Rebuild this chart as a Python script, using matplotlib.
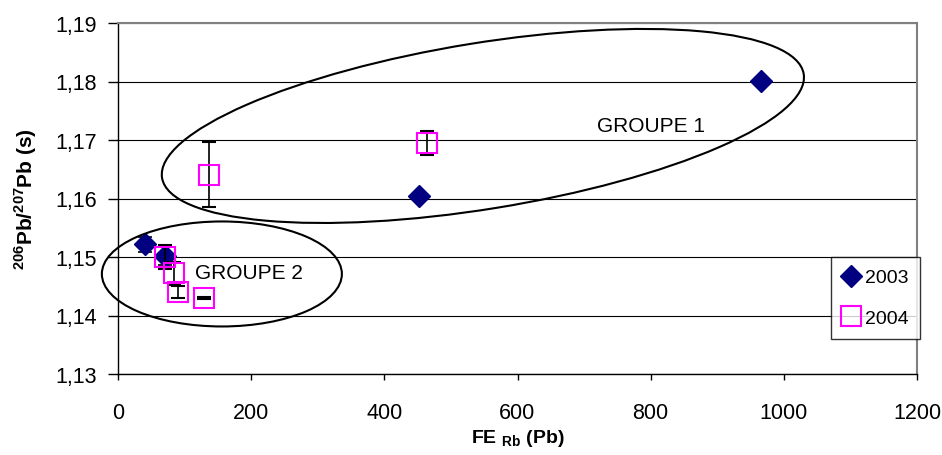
import matplotlib
matplotlib.use("Agg")
import matplotlib.pyplot as plt
import matplotlib.ticker as mticker
from matplotlib.patches import Ellipse
from matplotlib.lines import Line2D

plt.rcParams["font.family"] = ["Liberation Sans", "DejaVu Sans"]
plt.rcParams["mathtext.fontset"] = "custom"
plt.rcParams["mathtext.rm"] = "Liberation Sans"
plt.rcParams["mathtext.bf"] = "Liberation Sans:bold"

# ---------------------------------------------------------------------------
# Data
# ---------------------------------------------------------------------------
fe_2003 = [40, 70, 452, 966]
ratio_2003 = [1.1522, 1.1502, 1.1604, 1.1801]
err_2003 = [0.0013, 0.0015, 0.0005, 0.0003]

fe_2004 = [70, 84, 90, 129, 136, 464]
ratio_2004 = [1.1500, 1.1472, 1.1440, 1.1430, 1.1641, 1.1695]
err_2004 = [0.0020, 0.0020, 0.0010, 0.0001, 0.0056, 0.0020]

y_ticks = [1.13, 1.14, 1.15, 1.16, 1.17, 1.18, 1.19]
x_ticks = [0, 200, 400, 600, 800, 1000, 1200]

NAVY = "#000080"
MAGENTA = "#FF00FF"

fig = plt.figure(figsize=(9.42, 4.56), dpi=100)
ax = fig.add_axes([118 / 942, 81 / 456, 799 / 942, 351 / 456])

ax.errorbar(fe_2003, ratio_2003, yerr=err_2003, fmt="D", ms=11, color=NAVY,
            mec=NAVY, ecolor="black", elinewidth=1.2, capsize=5, capthick=1.2,
            zorder=3)
ax.errorbar(fe_2004, ratio_2004, yerr=err_2004, fmt="s", ms=14, mfc="none",
            mec=MAGENTA, mew=1.5, ecolor="black", elinewidth=1.2, capsize=5,
            capthick=1.2, zorder=4)

ax.set_xlim(0, 1200)
ax.set_ylim(1.13, 1.19)
ax.set_xticks(x_ticks)
ax.set_yticks(y_ticks)
ax.yaxis.set_major_formatter(mticker.FuncFormatter(lambda v, _: f"{v:.2f}".replace(".", ",")))
ax.grid(axis="y", color="black", linewidth=0.8, zorder=0)
ax.set_axisbelow(True)

for side in ("top", "right"):
    ax.spines[side].set_color("#808080")
    ax.spines[side].set_linewidth(1.5)
for side in ("left", "bottom"):
    ax.spines[side].set_color("black")
    ax.spines[side].set_linewidth(1.0)

ax.tick_params(axis="y", direction="out", length=7, width=1, labelsize=15.5, pad=8)
ax.tick_params(axis="x", direction="out", length=4, width=1, labelsize=15.5, pad=16)

ax.set_ylabel(r"$^{\mathbf{206}}$Pb/$^{\mathbf{207}}$Pb (s)", fontsize=15,
              fontweight="bold", labelpad=12)
ax.set_xlabel(r"FE $_{\mathbf{Rb}}$ (Pb)", fontsize=14, fontweight="bold", labelpad=3)

# group outlines (hand-drawn ellipses in the original)
def _to_inches(x, y):
    px, py = ax.transData.transform((x, y))
    return px / fig.dpi, py / fig.dpi

for cx, cy, w, h, ang in [(548, 1.1724, 6.5, 1.66, 9.2), (156, 1.1471, 2.4, 1.05, 0)]:
    ell = Ellipse(_to_inches(cx, cy), w, h, angle=ang, fill=False, edgecolor="black",
                  linewidth=1.5, transform=fig.dpi_scale_trans, clip_on=False, zorder=5)
    ax.add_patch(ell)

ax.text(800, 1.1724, "GROUPE 1", fontsize=15, ha="center", va="center", zorder=6)
ax.text(196, 1.1473, "GROUPE 2", fontsize=15, ha="center", va="center", zorder=6)

# legend shows markers only (no error-bar glyphs)
handles = [
    Line2D([], [], ls="none", marker="D", ms=11, color=NAVY),
    Line2D([], [], ls="none", marker="s", ms=14, mfc="none", mec=MAGENTA, mew=1.5),
]
leg = fig.legend(handles, ["2003", "2004"], loc="center left",
                 bbox_to_anchor=(831 / 942, 1 - 299 / 456),
                 frameon=True, fancybox=False, edgecolor="black", fontsize=14,
                 handlelength=0.9, handletextpad=0.25, borderpad=0.6,
                 labelspacing=1.2, borderaxespad=0)
leg.get_frame().set_linewidth(1.0)

fig.savefig("out.png", dpi=100)
